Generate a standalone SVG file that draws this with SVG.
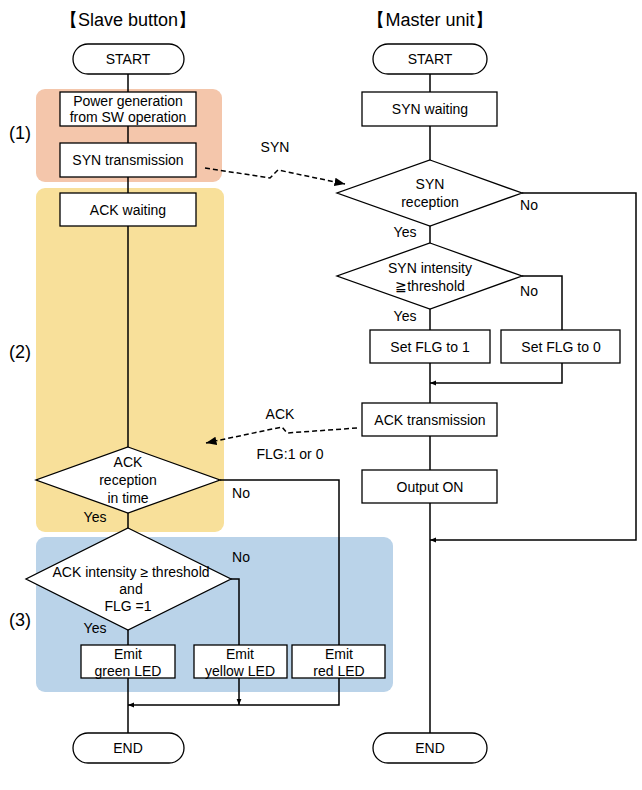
<svg xmlns="http://www.w3.org/2000/svg" width="642" height="790" viewBox="0 0 642 790">
<style>
text{font-family:"Liberation Sans",Arial,sans-serif;font-size:14px;fill:#000}
.t{text-anchor:middle}
.h{font-size:18px;text-anchor:middle}
.n{font-size:18px;text-anchor:middle}
.b{fill:#fff;stroke:#000;stroke-width:1.3}
.l{fill:none;stroke:#000;stroke-width:1.5}
.d{fill:none;stroke:#000;stroke-width:1.5;stroke-dasharray:5,3}
</style>
<defs>
<marker id="a" viewBox="0 0 10 10" refX="10" refY="5" markerWidth="7" markerHeight="7" orient="auto"><path d="M0,1 L10,5 L0,9z" fill="#000"/></marker>
<marker id="s" viewBox="0 0 10 10" refX="10" refY="5" markerWidth="4" markerHeight="4" orient="auto"><path d="M0,1 L10,5 L0,9z" fill="#000"/></marker>
</defs>
<rect x="36" y="89" width="186" height="93" rx="9" fill="#f4c6ab"/>
<rect x="36" y="188" width="188" height="344" rx="9" fill="#f8e09a"/>
<rect x="36" y="537" width="357" height="155" rx="9" fill="#bad3e9"/>
<text class="h" x="128" y="26">【Slave button】</text>
<text class="h" x="430" y="26">【Master unit】</text>
<text class="n" x="20" y="139">(1)</text>
<text class="n" x="20" y="358">(2)</text>
<text class="n" x="20" y="626">(3)</text>
<g id="connectors">
<path class="l" d="M128,74 V733"/>
<path class="l" d="M220,480 H339 V645"/>
<path class="l" d="M231,579 H239 V645"/>
<path class="l" d="M339,678 V705 H128" marker-end="url(#s)"/>
<path class="l" d="M239,678 V705" marker-end="url(#s)"/>
<path class="l" d="M430,74 V733"/>
<path class="l" d="M522,193 H636 V540 H430" marker-end="url(#s)"/>
<path class="l" d="M522,276 H562 V330"/>
<path class="l" d="M562,363 V383 H430" marker-end="url(#s)"/>
<path class="d" d="M205,168 L270,178 L278,170 L345,184" marker-end="url(#a)"/>
<path class="d" d="M357,428 L287,433 L282,427 L206,443" marker-end="url(#a)"/>
</g>
<text class="t" x="275" y="152">SYN</text>
<text class="t" x="280" y="419">ACK</text>
<text class="t" x="290" y="459">FLG:1 or 0</text>
<g id="s-start"><rect class="b" x="73" y="44" width="111" height="30" rx="15"/><text class="t" x="128" y="64">START</text></g>
<g id="s-power"><rect class="b" x="60" y="92" width="136" height="34"/><text class="t" x="128" y="106">Power generation</text><text class="t" x="128" y="122">from SW operation</text></g>
<g id="s-syn"><rect class="b" x="60" y="143" width="136" height="34"/><text class="t" x="128" y="165">SYN transmission</text></g>
<g id="s-ackwait"><rect class="b" x="60" y="193" width="136" height="33"/><text class="t" x="128" y="215">ACK waiting</text></g>
<g id="s-ackrec"><path class="b" d="M128,447 L220,480 L128,513 L36,480z"/><text class="t" x="128" y="467">ACK</text><text class="t" x="128" y="485">reception</text><text class="t" x="128" y="503">in time</text><text class="t" x="95" y="522">Yes</text><text class="t" x="241" y="498">No</text></g>
<g id="s-ackint"><path class="b" d="M128,528 L231,579 L128,630 L26,579z"/><text class="t" x="131" y="577">ACK intensity ≥ threshold</text><text class="t" x="131" y="594">and</text><text class="t" x="128" y="611">FLG =1</text><text class="t" x="95" y="633">Yes</text><text class="t" x="241" y="562">No</text></g>
<g id="s-green"><rect class="b" x="81" y="645" width="94" height="33"/><text class="t" x="128" y="659">Emit</text><text class="t" x="128" y="676">green LED</text></g>
<g id="s-yellow"><rect class="b" x="194" y="645" width="93" height="33"/><text class="t" x="240" y="659">Emit</text><text class="t" x="240" y="676">yellow LED</text></g>
<g id="s-red"><rect class="b" x="292" y="645" width="93" height="33"/><text class="t" x="339" y="659">Emit</text><text class="t" x="339" y="676">red LED</text></g>
<g id="s-end"><rect class="b" x="73" y="733" width="111" height="30" rx="15"/><text class="t" x="128" y="753">END</text></g>
<g id="m-start"><rect class="b" x="373" y="44" width="114" height="30" rx="15"/><text class="t" x="430" y="64">START</text></g>
<g id="m-synwait"><rect class="b" x="362" y="92" width="135" height="34"/><text class="t" x="430" y="114">SYN waiting</text></g>
<g id="m-synrec"><path class="b" d="M430,160 L522,193 L430,226 L337,193z"/><text class="t" x="430" y="189">SYN</text><text class="t" x="430" y="207">reception</text><text class="t" x="405" y="237">Yes</text><text class="t" x="529" y="210">No</text></g>
<g id="m-synint"><path class="b" d="M430,243 L522,276 L430,309 L337,276z"/><text class="t" x="430" y="273">SYN intensity</text><text class="t" x="430" y="291">≧threshold</text><text class="t" x="405" y="321">Yes</text><text class="t" x="529" y="296">No</text></g>
<g id="m-flg1"><rect class="b" x="370" y="330" width="120" height="33"/><text class="t" x="430" y="352">Set FLG to 1</text></g>
<g id="m-flg0"><rect class="b" x="501" y="330" width="119" height="33"/><text class="t" x="561" y="352">Set FLG to 0</text></g>
<g id="m-ack"><rect class="b" x="362" y="403" width="135" height="33"/><text class="t" x="430" y="425">ACK transmission</text></g>
<g id="m-out"><rect class="b" x="362" y="470" width="135" height="33"/><text class="t" x="430" y="492">Output ON</text></g>
<g id="m-end"><rect class="b" x="373" y="733" width="114" height="30" rx="15"/><text class="t" x="430" y="753">END</text></g>
</svg>
